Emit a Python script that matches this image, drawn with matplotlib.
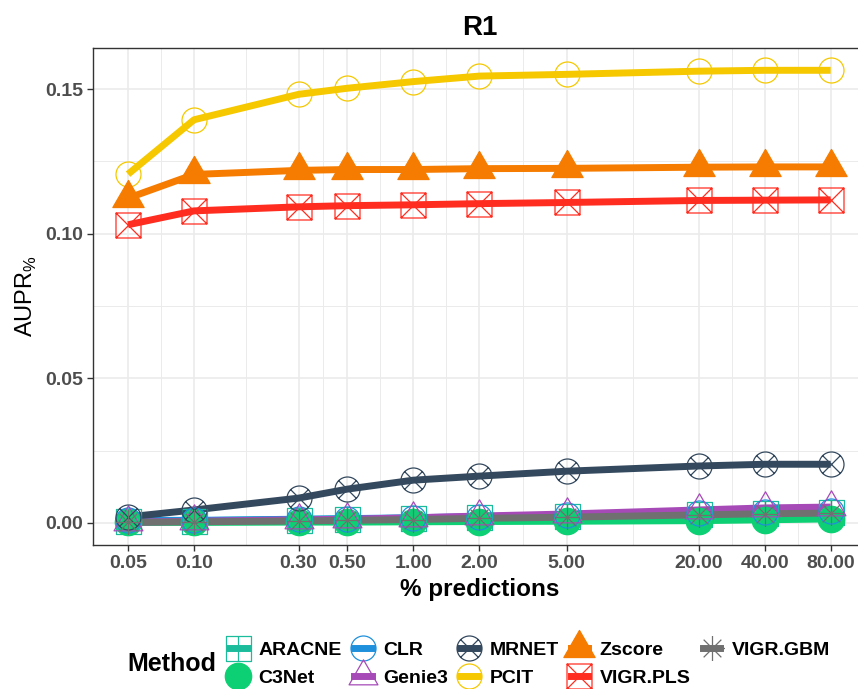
import matplotlib
matplotlib.use('Agg')
import matplotlib.pyplot as plt
import numpy as np
from matplotlib.lines import Line2D
from matplotlib.path import Path
from matplotlib.ticker import FixedLocator, FixedFormatter, NullFormatter

plt.rcParams['font.family'] = ['Liberation Sans', 'DejaVu Sans']
plt.rcParams['mathtext.fontset'] = 'custom'
plt.rcParams['mathtext.rm'] = 'Liberation Sans'

# % of predictions kept, and the AUPR of each method at that cutoff
pct = [0.05, 0.10, 0.30, 0.50, 1.00, 2.00, 5.00, 20.00, 40.00, 80.00]
pct_labels = ['0.05', '0.10', '0.30', '0.50', '1.00', '2.00', '5.00',
              '20.00', '40.00', '80.00']

aracne = [0.0008, 0.0008, 0.0012, 0.0014, 0.0017, 0.0020, 0.0025, 0.0032, 0.0036, 0.0038]
c3net = [0.0002, 0.0002, 0.0003, 0.0003, 0.0004, 0.0005, 0.0006, 0.0008, 0.0011, 0.0014]
clr = [0.0009, 0.0009, 0.0013, 0.0015, 0.0018, 0.0022, 0.0027, 0.0035, 0.0039, 0.0041]
genie3 = [0.0003, 0.0006, 0.0011, 0.0013, 0.0018, 0.0024, 0.0031, 0.0045, 0.0052, 0.0055]
mrnet = [0.0021, 0.0045, 0.0086, 0.0117, 0.0148, 0.0162, 0.0179, 0.0197, 0.0203, 0.0203]
pcit = [0.1206, 0.1394, 0.1482, 0.1503, 0.1526, 0.1545, 0.1551, 0.1562, 0.1565, 0.1565]
vigr_gbm = [0.0002, 0.0004, 0.0007, 0.0009, 0.0012, 0.0016, 0.0020, 0.0028, 0.0032, 0.0034]
vigr_pls = [0.1031, 0.1079, 0.1093, 0.1097, 0.1100, 0.1104, 0.1108, 0.1115, 0.1116, 0.1117]
zscore = [0.1123, 0.1205, 0.1219, 0.1222, 0.1222, 0.1225, 0.1226, 0.1230, 0.1231, 0.1231]


def seg(a, b):
    return Path([a, b], [Path.MOVETO, Path.LINETO])


square = Path([(-1, -1), (1, -1), (1, 1), (-1, 1), (-1, -1)],
              [Path.MOVETO, Path.LINETO, Path.LINETO, Path.LINETO, Path.CLOSEPOLY])
circle = Path.unit_circle()
# triangle centred on its centroid, like R's pch 2 / 17
triangle = Path([(0, 1), (-0.866, -0.5), (0.866, -0.5), (0, 1)],
                [Path.MOVETO, Path.LINETO, Path.LINETO, Path.CLOSEPOLY])
k = 0.707
square_plus = Path.make_compound_path(square, seg((-1, 0), (1, 0)), seg((0, -1), (0, 1)))
square_cross = Path.make_compound_path(square, seg((-1, -1), (1, 1)), seg((-1, 1), (1, -1)))
circle_cross = Path.make_compound_path(circle, seg((-k, -k), (k, k)), seg((-k, k), (k, -k)))
asterisk = Path.make_compound_path(seg((-1, 0), (1, 0)), seg((0, -1), (0, 1)),
                                   seg((-k, -k), (k, k)), seg((-k, k), (k, -k)))

# name, values, colour, marker, marker size, filled
styles = {
    'ARACNE': (aracne, '#1ABC9C', square_plus, 18, False),
    'C3Net': (c3net, '#0CD073', 'o', 19, True),
    'CLR': (clr, '#1E90DC', circle, 18, False),
    'Genie3': (genie3, '#A64AB8', triangle, 24, False),
    'MRNET': (mrnet, '#34495E', circle_cross, 18, False),
    'PCIT': (pcit, '#F5C800', circle, 18, False),
    'VIGR.GBM': (vigr_gbm, '#707070', asterisk, 18, False),
    'VIGR.PLS': (vigr_pls, '#FF2D20', square_cross, 18, False),
    'Zscore': (zscore, '#F57C00', triangle, 26, True),
}
legend_order = ['ARACNE', 'C3Net', 'CLR', 'Genie3', 'MRNET', 'PCIT',
                'Zscore', 'VIGR.PLS', 'VIGR.GBM']

fig = plt.figure(figsize=(8.58, 6.89), dpi=100)
ax = fig.add_axes([0.10828, 0.20900, 0.9008, 0.72177])

for name, (vals, color, marker, ms, filled) in styles.items():
    ax.plot(pct, vals, color=color, lw=5, solid_capstyle='butt', zorder=3)
for name, (vals, color, marker, ms, filled) in styles.items():
    ax.plot(pct, vals, ls='none', marker=marker, ms=ms,
            mfc=color if filled else 'none', mec=color, mew=0.9, zorder=4)

ax.set_xscale('log')
span = np.log10(pct[-1]) - np.log10(pct[0])
ax.set_xlim(pct[0] / 10 ** (0.05 * span), pct[-1] * 10 ** (0.05 * span))
all_vals = np.concatenate([v[0] for v in styles.values()])
pad = 0.05 * (all_vals.max() - all_vals.min())
ax.set_ylim(all_vals.min() - pad, all_vals.max() + pad)

ax.xaxis.set_major_locator(FixedLocator(pct))
ax.xaxis.set_major_formatter(FixedFormatter(pct_labels))
ax.xaxis.set_minor_locator(FixedLocator(np.sqrt(np.array(pct[:-1]) * np.array(pct[1:]))))
ax.xaxis.set_minor_formatter(NullFormatter())
ax.yaxis.set_major_locator(FixedLocator([0.0, 0.05, 0.10, 0.15]))
ax.yaxis.set_major_formatter(FixedFormatter(['0.00', '0.05', '0.10', '0.15']))
ax.yaxis.set_minor_locator(FixedLocator([0.025, 0.075, 0.125]))

ax.grid(which='major', color='#EBEBEB', lw=1.2, zorder=0)
ax.grid(which='minor', color='#EBEBEB', lw=0.7, zorder=0)
ax.set_axisbelow(True)
ax.tick_params(which='major', length=4, width=1, color='#333333',
               labelsize=14, labelcolor='#4D4D4D', pad=3)
ax.tick_params(which='minor', length=0)
for lab in ax.get_xticklabels() + ax.get_yticklabels():
    lab.set_fontweight('bold')
for sp in ax.spines.values():
    sp.set_color('#333333')
    sp.set_linewidth(1.0)

ax.set_title('R1', fontsize=20, fontweight='bold', pad=9)
ax.set_xlabel('% predictions', fontsize=17.5, fontweight='bold')
ax.xaxis.set_label_coords(0.5, -0.066)
ax.set_ylabel(r'AUPR$_{\%}$', fontsize=17)
ax.yaxis.set_label_coords(-0.07, 0.5)

handles = []
for name in legend_order:
    vals, color, marker, ms, filled = styles[name]
    handles.append(Line2D([], [], color=color, lw=5, marker=marker, ms=ms,
                          mfc=color if filled else 'none', mec=color, mew=0.9))
fig.legend(handles, legend_order, ncol=5, loc='center left',
           bbox_to_anchor=(0.2675, 0.036), frameon=False, borderpad=0,
           borderaxespad=0, handlelength=0.9, handletextpad=0.6,
           columnspacing=0.62, labelspacing=0.56,
           prop={'size': 14, 'weight': 'bold'})
fig.text(0.149, 0.036, 'Method', fontsize=18, fontweight='bold',
         ha='left', va='center')

fig.savefig('out.png', dpi=100)
